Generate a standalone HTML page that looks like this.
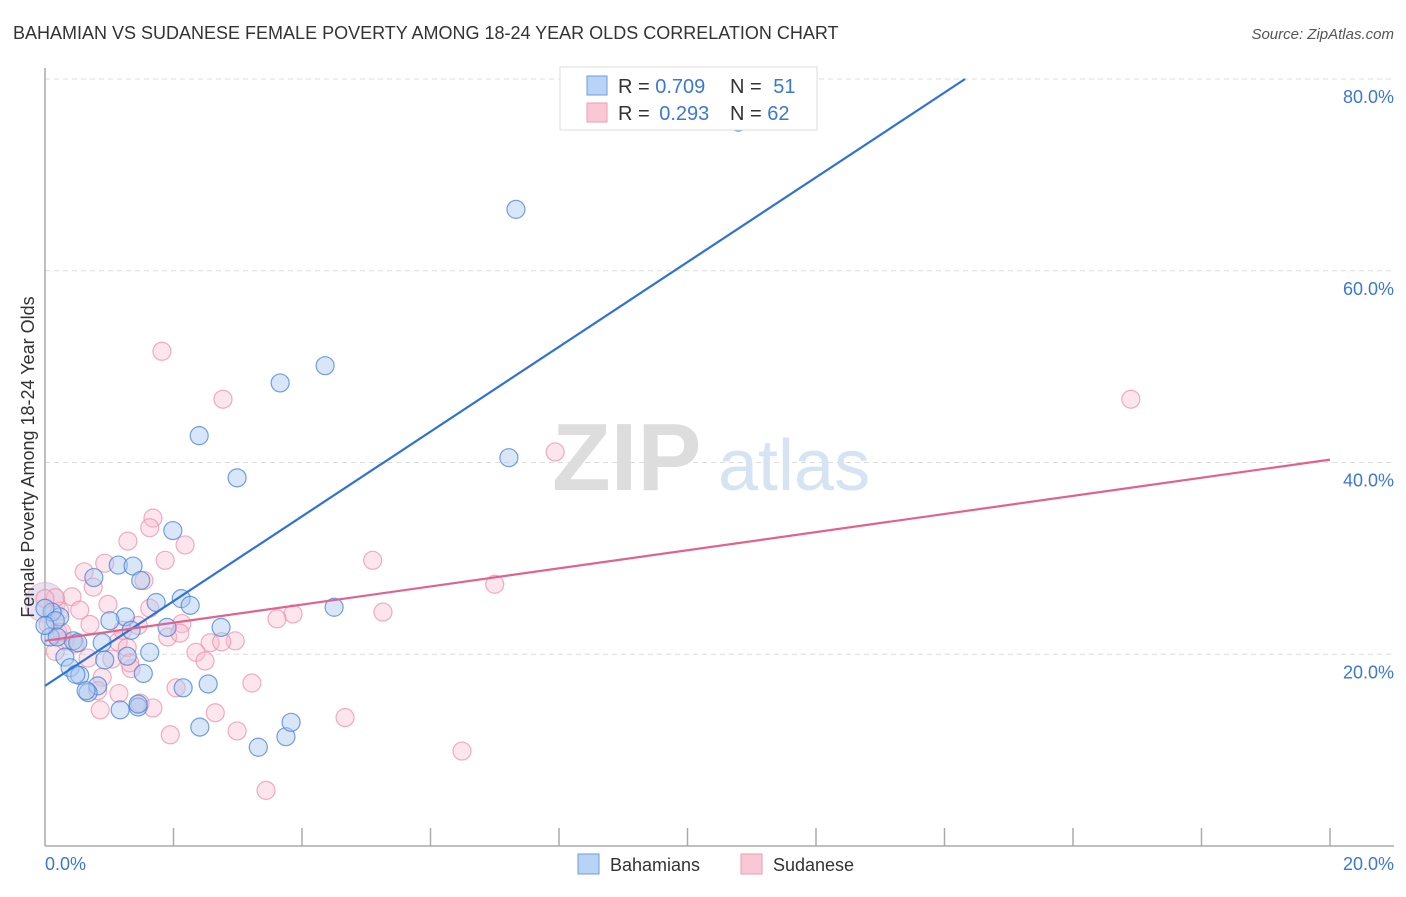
<!DOCTYPE html>
<html><head><meta charset="utf-8">
<style>
body{margin:0;background:#fff;font-family:"Liberation Sans",sans-serif;}
svg text{font-family:"Liberation Sans",sans-serif;}
</style></head>
<body>
<svg id="chart" width="1406" height="892" xmlns="http://www.w3.org/2000/svg">
<text x="13" y="39" font-size="18" fill="#333">BAHAMIAN VS SUDANESE FEMALE POVERTY AMONG 18-24 YEAR OLDS CORRELATION CHART</text>
<text x="1394" y="39" font-size="15" fill="#555" text-anchor="end" font-style="italic">Source: ZipAtlas.com</text>
<g id="grid"></g>
<g>
<text x="552" y="490" font-size="96" fill="#ddd" font-family="Liberation Serif" font-weight="bold">ZIP</text>
<text x="718" y="490" font-size="72" fill="#d5e3f3">atlas</text>
</g>
<line x1="45" y1="68" x2="45" y2="846" stroke="#aaa" stroke-width="1.5"/>
<line x1="45" y1="846" x2="1394" y2="846" stroke="#aaa" stroke-width="1.5"/>
<g id="xticks"></g>
<g id="pts"></g>
<g id="lines"></g>
<text transform="translate(34,457) rotate(-90)" font-size="18" fill="#333" text-anchor="middle">Female Poverty Among 18-24 Year Olds</text>
<text x="45" y="870" font-size="18" fill="#3a78d4">0.0%</text>
<text x="1394" y="870" font-size="18" fill="#3a78d4" text-anchor="end">20.0%</text>
<g>
<rect x="560" y="67" width="257" height="63" fill="#fff" stroke="#ddd"/>
<rect x="587" y="76" width="20" height="19" fill="#b8d3f5" stroke="#6c9be0"/>
<rect x="587" y="103" width="20" height="19" fill="#f9c8d6" stroke="#ee9ab3"/>
<text x="618" y="93" font-size="20" fill="#333">R = <tspan fill="#3a78d4">0.709</tspan></text>
<text x="730" y="93" font-size="20" fill="#333">N = <tspan fill="#3a78d4" dx="6">51</tspan></text>
<text x="618" y="120" font-size="20" fill="#333">R = <tspan fill="#3a78d4" dx="4">0.293</tspan></text>
<text x="730" y="120" font-size="20" fill="#333">N = <tspan fill="#3a78d4">62</tspan></text>
</g>
<g>
<rect x="578" y="854" width="21" height="20" fill="#b8d3f5" stroke="#6c9be0"/>
<text x="610" y="871" font-size="18" fill="#333">Bahamians</text>
<rect x="741" y="854" width="21" height="20" fill="#f9c8d6" stroke="#ee9ab3"/>
<text x="773" y="871" font-size="18" fill="#333">Sudanese</text>
</g>
</svg>
<script>
const yTicks=[20,40,60,80];
const yTickLabels=["20.0%","40.0%","60.0%","80.0%"];
const xTickVals=[2,4,6,8,10,12,14,16,18,20];
const bahX=[10.79,7.33,4.36,3.66,2.40,2.99,7.22,1.99,0.76,1.14,1.37,1.49,1.73,2.12,2.26,1.25,1.01,0.23,0.11,0.89,1.34,1.90,2.74,1.63,4.50,0.44,0.31,0.39,0.54,0.93,1.53,0.82,0.67,2.54,2.15,1.17,1.45,2.41,3.32,3.75,3.83,0.00,0.16,0.08,0.19,0.48,0.64,1.45,0.00,0.51,1.28];
const bahY=[75.5,66.4,50.1,48.3,42.8,38.4,40.5,32.9,28.0,29.3,29.2,27.7,25.4,25.8,25.1,23.9,23.5,23.9,24.4,21.2,22.5,22.8,22.8,20.2,24.9,21.4,19.7,18.6,17.8,19.4,18.0,16.7,16.0,16.9,16.5,14.2,14.5,12.4,10.3,11.4,12.9,24.8,23.5,21.8,21.8,17.9,16.2,14.8,23.0,21.2,19.8];
const sudX=[1.82,2.77,16.90,7.94,1.68,1.63,2.18,1.29,1.87,5.10,0.93,0.61,1.54,0.75,0.42,0.98,0.54,0.23,7.00,5.26,3.86,3.61,1.45,2.13,0.70,1.91,2.10,2.57,2.96,2.75,1.14,1.28,2.35,0.31,0.47,0.20,1.04,2.49,0.67,1.34,0.89,3.22,2.04,0.82,1.15,1.48,1.68,0.86,1.95,2.65,4.67,2.99,6.49,3.44,0.16,0.00,0.05,0.16,1.21,0.26,1.63,1.32];
const sudY=[51.6,46.6,46.6,41.1,34.2,33.2,31.4,31.8,29.8,29.8,29.5,28.6,27.7,27.0,26.0,25.2,24.6,24.5,27.3,24.4,24.2,23.7,23.0,23.2,23.1,21.8,22.2,21.2,21.4,21.3,21.3,20.7,20.2,21.4,21.1,22.3,19.5,19.3,19.6,18.5,17.6,17.0,16.5,16.2,15.9,14.9,14.4,14.2,11.6,13.9,13.4,12.0,9.9,5.8,25.9,25.8,23.1,20.3,22.5,22.3,24.8,19.1];
const blueLine=[0,16.7,14.32,80];
const pinkLine=[0,21.4,20,40.3];
const X=v=>45+v*64.25, Y=v=>846-v*9.5875;
const NS="http://www.w3.org/2000/svg";
function mk(tag,at,parent){const e=document.createElementNS(NS,tag);for(const k in at)e.setAttribute(k,at[k]);document.getElementById(parent).appendChild(e);return e;}
yTicks.forEach((t,i)=>{
 const l=mk('line',{x1:45,x2:1394,y1:Y(t),y2:Y(t),stroke:'#ddd','stroke-dasharray':'5,4'},'grid');
 
 
 const tx=mk('text',{x:1394,y:Y(t)+24,'font-size':18,fill:'#3a78d4','text-anchor':'end'},'grid');
 tx.textContent=yTickLabels[i];
 
 
});
xTickVals.forEach(v=>{
 const l=mk('line',{x1:X(v),x2:X(v),y1:828,y2:846,stroke:'#aaa','stroke-width':1.5},'xticks');
 
 
});
const big=mk('circle',{cx:X(0),cy:Y(25.4),r:20,fill:'rgba(200,190,225,0.45)',stroke:'rgba(230,150,180,0.5)'},'pts');


sudX.forEach((v,i)=>{
 const c=mk('circle',{cx:X(v),cy:Y(sudY[i]),r:9,fill:'rgba(248,190,208,0.4)',stroke:'rgba(235,140,170,0.7)','stroke-width':1.2},'pts');
 
 
});
bahX.forEach((v,i)=>{
 const c=mk('circle',{cx:X(v),cy:Y(bahY[i]),r:9,fill:'rgba(170,200,240,0.45)',stroke:'rgba(70,130,215,0.75)','stroke-width':1.2},'pts');
 
 
});
const bl=mk('line',{x1:X(blueLine[0]),y1:Y(blueLine[1]),x2:X(blueLine[2]),y2:Y(blueLine[3]),stroke:'#2f72d6','stroke-width':2.2},'lines');


const pl=mk('line',{x1:X(pinkLine[0]),y1:Y(pinkLine[1]),x2:X(pinkLine[2]),y2:Y(pinkLine[3]),stroke:'#e0638f','stroke-width':2.2},'lines');


</script>
</body></html>
